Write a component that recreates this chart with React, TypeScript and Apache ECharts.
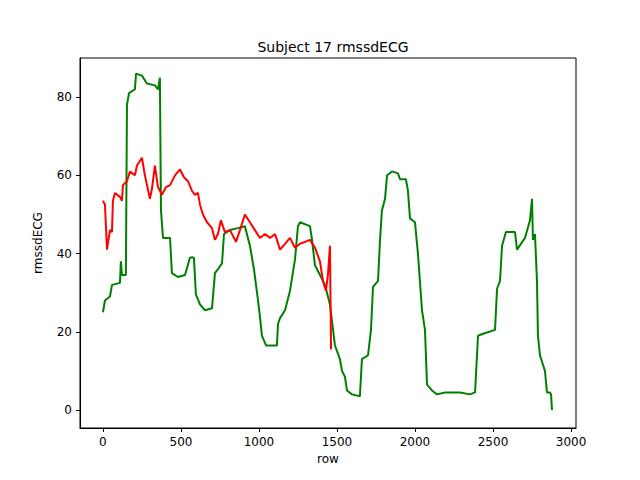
import { useRef, useEffect } from 'react'
import * as echarts from 'echarts'

const greenSeries: [number, number][] = [
  [0, 25], [13, 28], [45, 29], [58, 32], [109, 32.5], [115, 38], [122, 34.5], [147, 34.5],
  [154, 78], [167, 81], [205, 82], [212, 86], [250, 85.5], [282, 83.5], [333, 83], [353, 82],
  [365, 85], [372, 51], [385, 44], [430, 44], [442, 35], [481, 34], [526, 34.5], [558, 39],
  [583, 39], [596, 29.5], [622, 27], [654, 25.5], [699, 26], [718, 35], [737, 36], [763, 37.5],
  [776, 45], [814, 46], [865, 46.5], [910, 47], [942, 42], [968, 36], [994, 28], [1006, 24],
  [1019, 19], [1045, 16.5], [1071, 16.5], [1115, 16.5], [1122, 22], [1135, 23.5], [1167, 25.5],
  [1199, 30.5], [1231, 38.5], [1250, 47], [1263, 48], [1327, 47], [1340, 43.5], [1359, 37],
  [1391, 34.5], [1423, 32], [1455, 27], [1487, 16.5], [1519, 13], [1532, 10], [1551, 8.5],
  [1564, 5], [1596, 4], [1647, 3.5], [1660, 13], [1699, 14], [1718, 20.5], [1731, 31.5],
  [1763, 33], [1776, 43.5], [1788, 51], [1808, 54], [1821, 60], [1853, 61], [1891, 60.5],
  [1904, 59], [1942, 59], [1955, 56], [1968, 49], [2000, 48], [2019, 40], [2045, 25.5],
  [2064, 20.5], [2077, 6.5], [2109, 5], [2141, 4], [2192, 4.5], [2288, 4.5], [2353, 4],
  [2385, 4.5], [2404, 19], [2436, 19.5], [2513, 20.5], [2526, 31], [2545, 33], [2558, 42],
  [2583, 45.5], [2641, 45.5], [2654, 41], [2705, 44], [2737, 48.5], [2750, 54], [2756, 43.5],
  [2769, 45], [2782, 33], [2788, 19], [2801, 14], [2833, 10], [2846, 4.5], [2865, 4.5],
  [2872, 4], [2878, 0],
]

const redSeries: [number, number][] = [
  [0, 53.5], [13, 52.5], [26, 41], [45, 46], [58, 45.5], [64, 53.5], [77, 55.5], [109, 54.5],
  [122, 53.5], [128, 57.5], [154, 58.5], [173, 61], [205, 60], [218, 62.5], [250, 64.5],
  [269, 60], [301, 54], [314, 56.5], [333, 62.5], [353, 57], [378, 55], [404, 57], [430, 57.5],
  [462, 60], [494, 61.5], [519, 59.5], [545, 58.5], [571, 56], [590, 55], [609, 55.5],
  [622, 52.5], [641, 50], [667, 48], [699, 46.5], [718, 43.5], [737, 45], [756, 48.5],
  [782, 45.5], [814, 46], [853, 43], [878, 46], [910, 50], [942, 48], [974, 46], [1006, 44],
  [1038, 45], [1071, 44], [1103, 45], [1135, 41], [1167, 42.5], [1199, 44], [1231, 41.5],
  [1263, 42.5], [1295, 43], [1327, 43.5], [1359, 41.5], [1391, 38], [1410, 33], [1429, 30.5],
  [1442, 34.5], [1455, 42], [1462, 15.5],
]

const xTicks = [0, 500, 1000, 1500, 2000, 2500, 3000]
const yTicks = [0, 20, 40, 60, 80]

const font = 'DejaVu Sans'

export default function App() {
  const chartRef = useRef<HTMLDivElement>(null)

  useEffect(() => {
    if (!chartRef.current) return
    const chart = echarts.init(chartRef.current, undefined, { renderer: 'svg' })
    const axisCommon = {
      axisLine: { show: true, onZero: false, lineStyle: { color: '#000', width: 1 } },
      splitLine: { show: false },
      axisTick: { show: true, inside: false, length: 4, lineStyle: { color: '#000' } },
      axisLabel: { color: '#000', fontSize: 12, fontFamily: font, formatter: (v: number) => String(v) },
      nameTextStyle: { color: '#000', fontSize: 12, fontFamily: font },
    }
    chart.setOption({
      animation: false,
      title: {
        text: 'Subject 17 rmssdECG',
        left: 328,
        top: 35,
        textAlign: 'center',
        textStyle: { fontSize: 14, fontWeight: 'normal', color: '#000', fontFamily: font },
      },
      grid: {
        left: 80, right: 64, top: 58, bottom: 52,
        show: true, borderColor: '#000', borderWidth: 1, backgroundColor: 'transparent',
      },
      xAxis: {
        type: 'value',
        min: -147,
        max: 3032,
        name: 'row',
        nameLocation: 'middle',
        nameGap: 24,
        ...axisCommon,
        axisTick: { ...axisCommon.axisTick, customValues: xTicks },
        axisLabel: { ...axisCommon.axisLabel, customValues: xTicks },
      },
      yAxis: {
        type: 'value',
        min: -4.6,
        max: 90,
        name: 'rmssdECG',
        nameLocation: 'middle',
        nameGap: 36,
        ...axisCommon,
        axisTick: { ...axisCommon.axisTick, customValues: yTicks },
        axisLabel: { ...axisCommon.axisLabel, customValues: yTicks },
      },
      series: [
        {
          type: 'line', data: greenSeries, symbol: 'none',
          lineStyle: { color: 'green', width: 2 }, z: 2,
        },
        {
          type: 'line', data: redSeries, symbol: 'none',
          lineStyle: { color: 'red', width: 2 }, z: 3,
        },
      ],
    })
    return () => chart.dispose()
  }, [])

  return <div ref={chartRef} style={{ width: 640, height: 480, margin: -8 }} />
}
